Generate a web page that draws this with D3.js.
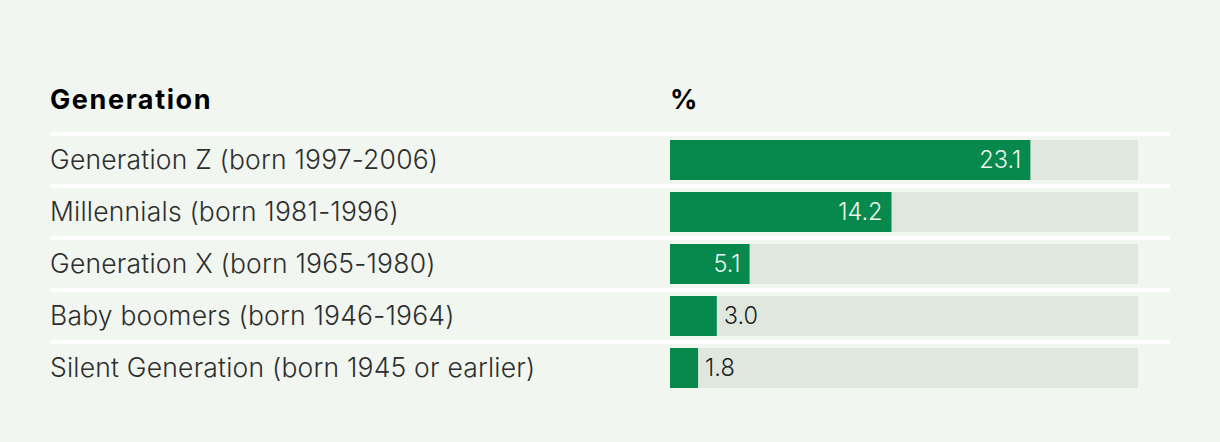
<!DOCTYPE html>
<html>
<head>
<meta charset="utf-8">
<script src="https://cdn.jsdelivr.net/npm/d3@7"></script>
<style>
  html, body { margin: 0; padding: 0; background: #f1f7f0; }
  svg { display: block; }
  text { font-family: Inter, "Open Sans", sans-serif; }
</style>
</head>
<body>
<svg id="chart" width="1220" height="442"></svg>
<script>
const categories = [
  "Generation Z (born 1997-2006)",
  "Millennials (born 1981-1996)",
  "Generation X (born 1965-1980)",
  "Baby boomers (born 1946-1964)",
  "Silent Generation (born 1945 or earlier)"
];
const values = [23.1, 14.2, 5.1, 3.0, 1.8];
const headers = ["Generation", "%"];
const xMax = 30;

(function () {
const svg = d3.select("#chart");
const W = 1220, H = 442;
svg.append("rect").attr("width", W).attr("height", H).attr("fill", "#f1f7f0");

const left = 50, right = 1170;
const barX0 = 670, barX1 = 1138;
const top0 = 132, rowH = 52;

const x = d3.scaleLinear().domain([0, xMax]).range([barX0, barX1]);
const y = d3.scaleBand().domain(categories).range([top0, top0 + rowH * categories.length]).paddingInner(0).paddingOuter(0);

// headers
svg.append("text").attr("x", left).attr("y", 109)
  .attr("font-size", 27).attr("font-weight", 700).attr("fill", "#000")
  .attr("letter-spacing", 1.6)
  .text(headers[0]);
svg.append("text").attr("x", barX0).attr("y", 109)
  .attr("font-size", 27).attr("font-weight", 700).attr("fill", "#000")
  .text(headers[1]);

// separators
svg.selectAll("rect.sep").data(categories).join("rect")
  .attr("class", "sep")
  .attr("x", left).attr("width", right - left)
  .attr("y", d => y(d)).attr("height", 4)
  .attr("fill", "#ffffff");

const rows = svg.selectAll("g.row").data(categories).join("g").attr("class", "row")
  .attr("transform", d => `translate(0,${y(d)})`);

rows.append("text").attr("x", left).attr("y", 36.5)
  .attr("font-size", 26.5).attr("font-weight", 300).attr("fill", "#2e2e2e")
  .attr("letter-spacing", 0.2)
  .text(d => d);

rows.append("rect").attr("x", barX0).attr("y", 8)
  .attr("width", barX1 - barX0).attr("height", 40).attr("fill", "#e0e7df");

rows.append("rect").attr("x", barX0).attr("y", 8)
  .attr("width", (d, i) => x(values[i]) - barX0).attr("height", 40).attr("fill", "#07894e");

rows.append("text")
  .attr("x", (d, i) => {
    const w = x(values[i]) - barX0;
    return w > 60 ? x(values[i]) - 9 : x(values[i]) + 7;
  })
  .attr("y", 35.5)
  .attr("text-anchor", (d, i) => (x(values[i]) - barX0 > 60 ? "end" : "start"))
  .attr("font-size", 23.5).attr("font-weight", 300)
  .attr("fill", (d, i) => (x(values[i]) - barX0 > 60 ? "#eef5ee" : "#1e1e1e"))
  .text((d, i) => d3.format(".1f")(values[i]));
})();
</script>
</body>
</html>
